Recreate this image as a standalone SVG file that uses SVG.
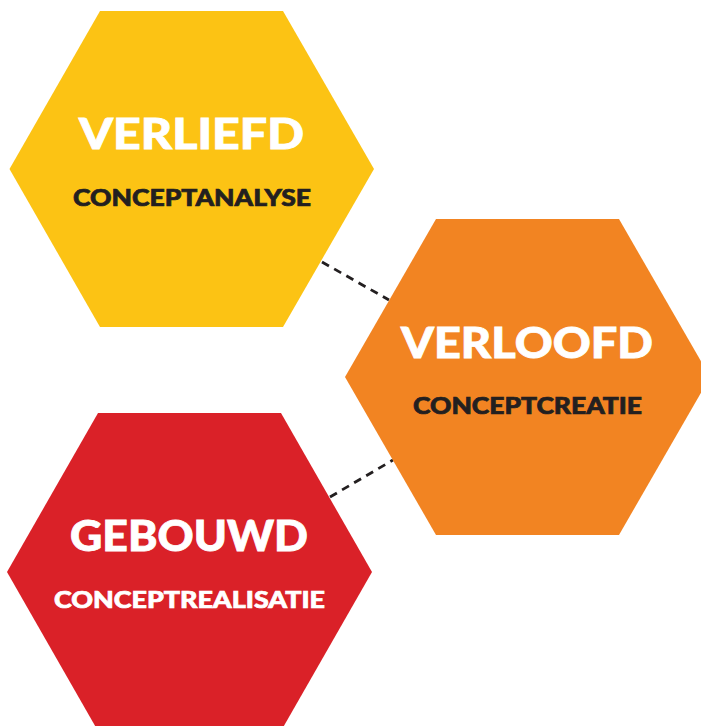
<svg xmlns="http://www.w3.org/2000/svg" width="701" height="726" viewBox="0 0 701 726">
  <style>
    .title { font-family: Lato, "Noto Sans", "Liberation Sans", sans-serif; font-weight: 900; font-size: 42px; fill: #ffffff; stroke: #ffffff; stroke-width: 0.8; text-anchor: middle; }
    .sub { font-family: Lato, "Noto Sans", "Liberation Sans", sans-serif; font-weight: 900; font-size: 23px; stroke-width: 0.7; text-anchor: middle; }
    .dark { fill: #231f20; stroke: #231f20; }
    .light { fill: #ffffff; stroke: #ffffff; }
    .link { fill: none; stroke: #231f20; stroke-width: 2.8; stroke-dasharray: 8 6; }
  </style>
  <rect width="701" height="726" fill="#ffffff"/>

  <g id="connectors">
    <line class="link" x1="322" y1="262" x2="389" y2="300"/>
    <line class="link" x1="330" y1="497" x2="393" y2="460"/>
  </g>

  <g id="verliefd">
    <polygon points="9.5,169 100,11 283,11 374,169 283,327 100,327" fill="#fcc314"/>
    <text class="title" x="191.5" y="149" textLength="225" lengthAdjust="spacingAndGlyphs">VERLIEFD</text>
    <text class="sub dark" x="192" y="206" textLength="238" lengthAdjust="spacingAndGlyphs">CONCEPTANALYSE</text>
  </g>

  <g id="verloofd">
    <polygon points="345,377 436,219 619,219 710,377 619,535 436,535" fill="#f28422"/>
    <text class="title" x="527" y="358" textLength="252" lengthAdjust="spacingAndGlyphs">VERLOOFD</text>
    <text class="sub dark" x="527.5" y="414" textLength="229" lengthAdjust="spacingAndGlyphs">CONCEPTCREATIE</text>
  </g>

  <g id="gebouwd">
    <polygon points="7,572 98,413 281,413 372,572 281,731 98,731" fill="#da2128"/>
    <text class="title" x="189" y="551" textLength="238" lengthAdjust="spacingAndGlyphs">GEBOUWD</text>
    <text class="sub light" x="189.5" y="608" textLength="271" lengthAdjust="spacingAndGlyphs">CONCEPTREALISATIE</text>
  </g>
</svg>
